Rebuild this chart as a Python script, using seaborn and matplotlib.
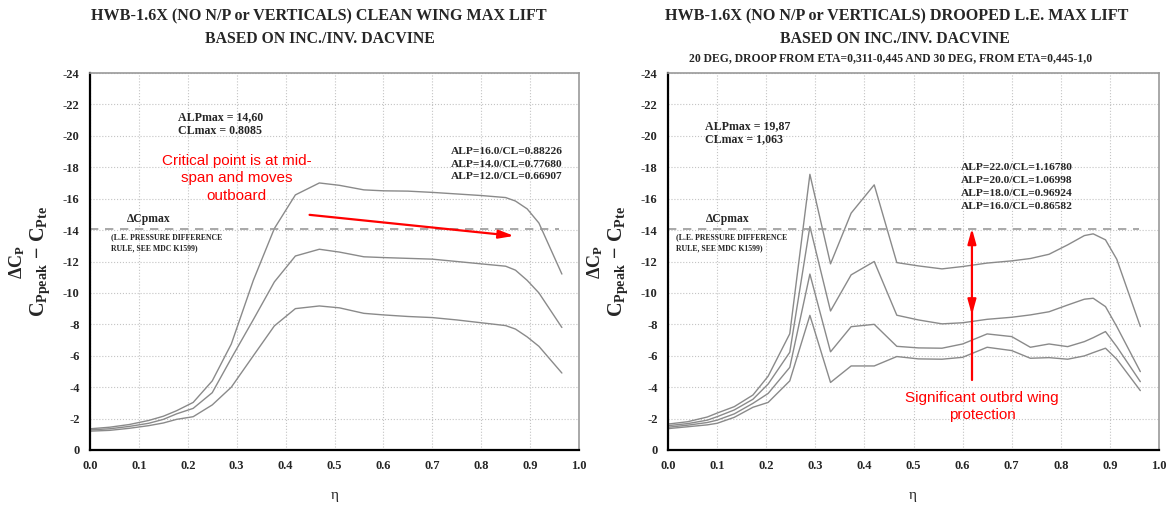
import numpy as np
import pandas as pd
import matplotlib
matplotlib.use("Agg")
import matplotlib.pyplot as plt
import seaborn as sns

sns.set_style("white")
plt.rcParams['font.family'] = ['Liberation Serif', 'DejaVu Serif']
plt.rcParams['axes.unicode_minus'] = False
plt.rcParams['mathtext.fontset'] = 'custom'
plt.rcParams['mathtext.rm'] = 'Liberation Serif:bold'
plt.rcParams['mathtext.it'] = 'Liberation Serif:bold'
plt.rcParams['mathtext.bf'] = 'Liberation Serif:bold'

# ---------------- data: clean wing ----------------
eta_clean = [0.0, 0.04, 0.08, 0.12, 0.15, 0.177, 0.211, 0.25, 0.289, 0.334, 0.377, 0.42, 0.469,
             0.51, 0.56, 0.6, 0.65, 0.7, 0.75, 0.8, 0.85, 0.87, 0.894, 0.918, 0.965]
clean_alp16 = [-1.35, -1.45, -1.62, -1.88, -2.15, -2.5, -3.03, -4.4, -6.75, -10.8, -14.1, -16.24, -17.0,
               -16.85, -16.56, -16.5, -16.48, -16.4, -16.3, -16.2, -16.07, -15.85, -15.35, -14.45, -11.2]
clean_alp14 = [-1.28, -1.35, -1.5, -1.7, -1.95, -2.3, -2.65, -3.65, -5.84, -8.3, -10.7, -12.35, -12.78,
               -12.6, -12.3, -12.25, -12.2, -12.15, -12.0, -11.85, -11.7, -11.45, -10.8, -10.0, -7.8]
clean_alp12 = [-1.2, -1.25, -1.38, -1.55, -1.72, -1.95, -2.12, -2.87, -4.0, -6.0, -7.9, -9.0, -9.17,
               -9.05, -8.7, -8.6, -8.5, -8.43, -8.28, -8.1, -7.92, -7.7, -7.2, -6.6, -4.9]
clean_labels = ["ALP=16.0/CL=0.88226", "ALP=14.0/CL=0.77680", "ALP=12.0/CL=0.66907"]

# ---------------- data: drooped L.E. ----------------
eta_droop = [0.0, 0.04, 0.08, 0.1, 0.135, 0.173, 0.204, 0.248, 0.289, 0.331, 0.373, 0.42, 0.466,
             0.51, 0.558, 0.6, 0.65, 0.7, 0.738, 0.776, 0.814, 0.848, 0.866, 0.891, 0.914, 0.962]
droop_alp22 = [-1.65, -1.8, -2.1, -2.35, -2.76, -3.5, -4.7, -7.4, -17.55, -11.85, -15.08, -16.88, -11.93,
               -11.72, -11.53, -11.68, -11.9, -12.04, -12.19, -12.46, -13.06, -13.65, -13.76, -13.38, -12.14, -7.86]
droop_alp20 = [-1.55, -1.68, -1.9, -2.12, -2.55, -3.23, -4.2, -6.22, -14.23, -8.85, -11.15, -12.0, -8.58,
               -8.28, -8.03, -8.1, -8.32, -8.45, -8.6, -8.8, -9.23, -9.6, -9.66, -9.13, -7.86, -4.99]
droop_alp18 = [-1.45, -1.58, -1.75, -1.9, -2.3, -2.97, -3.6, -5.26, -11.2, -6.25, -7.85, -8.0, -6.6,
               -6.5, -6.48, -6.75, -7.39, -7.22, -6.54, -6.75, -6.58, -6.9, -7.15, -7.54, -6.58, -4.35]
droop_alp16 = [-1.36, -1.48, -1.6, -1.7, -2.08, -2.72, -3.03, -4.4, -8.57, -4.3, -5.35, -5.35, -5.95,
               -5.8, -5.78, -5.9, -6.54, -6.33, -5.84, -5.88, -5.78, -5.99, -6.2, -6.48, -5.78, -3.78]
droop_labels = ["ALP=22.0/CL=1.16780", "ALP=20.0/CL=1.06998", "ALP=18.0/CL=0.96924", "ALP=16.0/CL=0.86582"]

dcp_max = -14.1

x_ticks = [0.0, 0.1, 0.2, 0.3, 0.4, 0.5, 0.6, 0.7, 0.8, 0.9, 1.0]
y_ticks = [0, -2, -4, -6, -8, -10, -12, -14, -16, -18, -20, -22, -24]

def long_df(eta, series, labels):
    rows = []
    for s, lab in zip(series, labels):
        for e, v in zip(eta, s):
            rows.append({"eta": e, "dcp": v, "case": lab})
    return pd.DataFrame(rows)

df_clean = long_df(eta_clean, [clean_alp16, clean_alp14, clean_alp12], clean_labels)
df_droop = long_df(eta_droop, [droop_alp22, droop_alp20, droop_alp18, droop_alp16], droop_labels)

W, H = 1167, 505
fig = plt.figure(figsize=(W / 100, H / 100), dpi=100)

def px_ax(x0, x1, y0, y1):
    return fig.add_axes([x0 / W, 1 - y1 / H, (x1 - x0) / W, (y1 - y0) / H])

axL = px_ax(90, 579, 73, 450)
axR = px_ax(668, 1159, 73, 450)

line_gray = "#8a8a8a"
for ax, df, labels in [(axL, df_clean, clean_labels), (axR, df_droop, droop_labels)]:
    sns.lineplot(data=df, x="eta", y="dcp", hue="case", palette={l: line_gray for l in labels},
                 ax=ax, legend=False, linewidth=1.0, sort=True, estimator=None)
    ax.set_xlim(0, 1.0)
    ax.set_ylim(0, -24)
    ax.set_xticks(x_ticks)
    ax.set_xticklabels([f"{t:.1f}" for t in x_ticks], fontweight="bold", fontsize=9)
    ax.set_yticks(y_ticks)
    ax.set_yticklabels([str(t) for t in y_ticks], fontweight="bold", fontsize=9)
    ax.grid(True, color="#c4c4c4", linestyle=":", linewidth=0.8)
    ax.set_axisbelow(True)
    for s in ["top", "right"]:
        ax.spines[s].set_color("#9a9a9a")
        ax.spines[s].set_linewidth(1.2)
    for s in ["left", "bottom"]:
        ax.spines[s].set_color("black")
        ax.spines[s].set_linewidth(1.6)
    ax.tick_params(axis="both", direction="inout", length=7, width=1.3, color="black",
                   pad=4, labelsize=9)
    ax.set_xlabel("")
    ax.set_ylabel("")
    ax.plot([0, 0.96], [dcp_max, dcp_max], color="#9a9a9a", linestyle=(0, (5, 4)), linewidth=1.2)

# ---------------- ylabel & xlabel ----------------
for axx in (90, 668):
    fig.text((axx - 73) / W, 1 - 262 / H, r"$\Delta C_P$", rotation=90, ha="center", va="center",
             fontsize=13)
    fig.text((axx - 50) / W, 1 - 262 / H, r"$C_{Ppeak}\ \mathrm{-}\ C_{Pte}$", rotation=90,
             ha="center", va="center", fontsize=14.5)
fig.text(335 / W, 1 - 495 / H, "η", ha="center", va="center", fontsize=11)
fig.text(913 / W, 1 - 495 / H, "η", ha="center", va="center", fontsize=11)

# ---------------- titles ----------------
fig.text(319 / W, 1 - 16 / H, "HWB-1.6X (NO N/P or VERTICALS) CLEAN WING MAX LIFT",
         ha="center", va="center", fontsize=11.6, fontweight="bold")
fig.text(320 / W, 1 - 39 / H, "BASED ON INC./INV. DACVINE",
         ha="center", va="center", fontsize=11.3, fontweight="bold")
fig.text(897 / W, 1 - 16 / H, "HWB-1.6X (NO N/P or VERTICALS) DROOPED L.E. MAX LIFT",
         ha="center", va="center", fontsize=11.6, fontweight="bold")
fig.text(895 / W, 1 - 39 / H, "BASED ON INC./INV. DACVINE",
         ha="center", va="center", fontsize=11.3, fontweight="bold")
fig.text(891 / W, 1 - 58 / H, "20 DEG, DROOP FROM ETA=0,311-0,445 AND 30 DEG, FROM ETA=0,445-1,0",
         ha="center", va="center", fontsize=8.4, fontweight="bold")

# ---------------- left annotations ----------------
axL.text(0.18, -21.2, "ALPmax = 14,60", fontsize=8.6, fontweight="bold", va="center", ha="left")
axL.text(0.18, -20.3, "CLmax = 0.8085", fontsize=8.6, fontweight="bold", va="center", ha="left")
for i, lab in enumerate(clean_labels):
    axL.text(0.739, -19.0 + i * 0.8, lab, fontsize=8.2, fontweight="bold", va="center", ha="left")
axL.text(0.075, -14.7, "ΔCpmax", fontsize=8.4, fontweight="bold", va="center", ha="left")
axL.text(0.043, -13.2, "(L.E. PRESSURE DIFFERENCE\nRULE, SEE MDC K1599)", fontsize=5.6,
         fontweight="bold", va="center", ha="left", linespacing=1.45)
axL.text(0.30, -17.3, "Critical point is at mid-\nspan and moves\noutboard", color="red",
         family=["Liberation Sans", "DejaVu Sans"], fontsize=11, ha="center", va="center",
         linespacing=1.3)
axL.annotate("", xy=(0.867, -13.63), xytext=(0.449, -14.97),
             arrowprops=dict(arrowstyle="-|>,head_length=0.9,head_width=0.25", color="red", lw=1.6,
                             shrinkA=0, shrinkB=0))

# ---------------- right annotations ----------------
axR.text(0.075, -20.6, "ALPmax = 19,87", fontsize=8.6, fontweight="bold", va="center", ha="left")
axR.text(0.075, -19.8, "CLmax = 1,063", fontsize=8.6, fontweight="bold", va="center", ha="left")
for i, lab in enumerate(droop_labels):
    axR.text(0.597, -17.96 + i * 0.81, lab, fontsize=8.2, fontweight="bold", va="center", ha="left")
axR.text(0.077, -14.7, "ΔCpmax", fontsize=8.4, fontweight="bold", va="center", ha="left")
axR.text(0.016, -13.2, "(L.E. PRESSURE DIFFERENCE\nRULE, SEE MDC K1599)", fontsize=5.6,
         fontweight="bold", va="center", ha="left", linespacing=1.45)
axR.plot([0.619, 0.619], [-9.6, -4.45], color="red", lw=1.6)
axR.annotate("", xy=(0.619, -14.1), xytext=(0.619, -8.6),
             arrowprops=dict(arrowstyle="<|-|>,head_length=0.9,head_width=0.25", color="red", lw=1.6,
                             shrinkA=0, shrinkB=0))
axR.text(0.64, -2.78, "Significant outbrd wing\nprotection", color="red",
         family=["Liberation Sans", "DejaVu Sans"], fontsize=11, ha="center", va="center",
         linespacing=1.3)

fig.savefig("out.png", dpi=100)
